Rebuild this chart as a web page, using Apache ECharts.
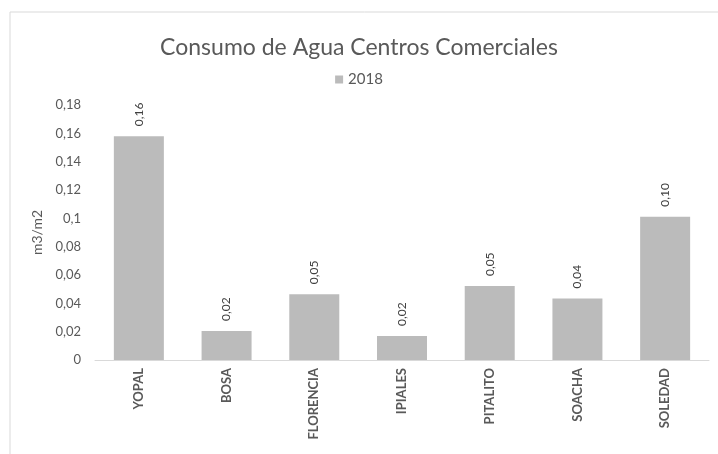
<!DOCTYPE html>
<html>
<head>
<meta charset="utf-8">
<script src="https://cdn.jsdelivr.net/npm/echarts@6/dist/echarts.min.js"></script>
<style>
  html, body { margin: 0; padding: 0; background: #fff; }
  #main { width: 718px; height: 454px; }
</style>
</head>
<body>
<div id="main"></div>
<script>
// datos
var ciudades = ['YOPAL', 'BOSA', 'FLORENCIA', 'IPIALES', 'PITALITO', 'SOACHA', 'SOLEDAD'];
var consumo2018 = [0.158, 0.0205, 0.0465, 0.017, 0.0522, 0.0435, 0.1012];
var serieNombre = '2018';

var coma = function (v, d) {
  return (d == null ? String(+v.toFixed(2)) : v.toFixed(d)).replace('.', ',');
};

var myChart = echarts.init(document.getElementById('main'));
var option = {
  backgroundColor: '#fff',
  animation: false,
  textStyle: { fontFamily: 'Lato' },
  graphic: [{
    type: 'rect',
    shape: { x: 10, y: 12, width: 720, height: 460 },
    style: { fill: 'none', stroke: '#d9d9d9', lineWidth: 1 },
    silent: true
  }],
  title: {
    text: 'Consumo de Agua Centros Comerciales',
    left: 'center',
    top: 31,
    textStyle: { color: '#595959', fontSize: 23, fontWeight: 'normal', fontFamily: 'Lato' }
  },
  legend: {
    data: [serieNombre],
    left: 'center',
    top: 67,
    icon: 'rect',
    itemWidth: 8,
    itemHeight: 8,
    itemGap: 6,
    textStyle: { color: '#595959', fontSize: 15 }
  },
  grid: { left: 95, right: 9, top: 105, bottom: 94 },
  xAxis: {
    type: 'category',
    data: ciudades,
    axisLine: { lineStyle: { color: '#d9d9d9', width: 1 } },
    axisTick: { show: false },
    axisLabel: {
      rotate: 90,
      margin: 8,
      color: '#595959',
      fontSize: 13,
      fontWeight: 'bold'
    }
  },
  yAxis: {
    type: 'value',
    min: 0,
    max: 0.18,
    interval: 0.02,
    name: 'm3/m2',
    nameLocation: 'middle',
    nameGap: 42,
    nameRotate: 90,
    nameTextStyle: { color: '#595959', fontSize: 14 },
    splitLine: { show: false },
    axisLine: { show: false },
    axisTick: { show: false },
    axisLabel: {
      color: '#595959',
      fontSize: 13,
      margin: 14,
      formatter: function (v) { return coma(v); }
    }
  },
  series: [{
    name: serieNombre,
    type: 'bar',
    data: consumo2018,
    barWidth: '57%',
    itemStyle: { color: '#bbbbbb' },
    label: {
      show: true,
      position: 'top',
      rotate: 90,
      align: 'left',
      verticalAlign: 'middle',
      distance: 10,
      color: '#404040',
      fontSize: 12,
      formatter: function (p) { return coma(p.value, 2); }
    }
  }]
};
myChart.setOption(option);
</script>
</body>
</html>
